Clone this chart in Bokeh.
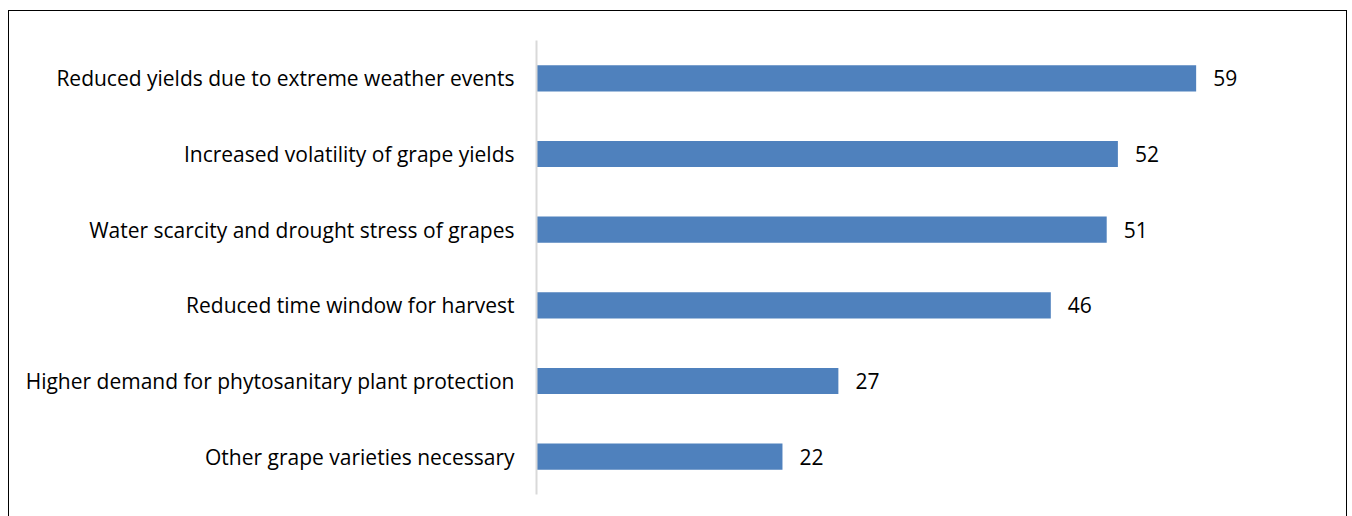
from bokeh.plotting import figure
from bokeh.models import ColumnDataSource, FactorRange, Range1d
from bokeh.core.properties import value
from bokeh.embed import file_html
from bokeh.resources import INLINE

categories = [
    "Reduced yields due to extreme weather events",
    "Increased volatility of grape yields",
    "Water scarcity and drought stress of grapes",
    "Reduced time window for harvest",
    "Higher demand for phytosanitary plant protection",
    "Other grape varieties necessary",
]
values = [59, 52, 51, 46, 27, 22]
value_labels = [str(v) for v in values]

FONT = "Open Sans"
BAR = "#4F81BD"

src = ColumnDataSource(dict(cat=categories, val=values, lab=value_labels))

p = figure(
    width=1339, height=510,
    y_range=FactorRange(factors=list(reversed(categories)), range_padding=0),
    x_range=Range1d(0, 72),
    output_backend="svg", toolbar_location=None,
    min_border_left=527, min_border_right=7, min_border_top=29, min_border_bottom=27,
)
p.margin = (10, 0, 0, 8)
p.styles = {"border-top": "1px solid black", "border-left": "1px solid black",
            "border-right": "1px solid black"}
p.outline_line_color = None
p.grid.visible = False
p.xaxis.visible = False

p.hbar(y="cat", right="val", left=0, height=0.345, source=src,
       fill_color=BAR, line_color=None)
p.text(x="val", y="cat", text="lab", source=src, x_offset=17,
       text_baseline="middle", text_align="left",
       text_font=value(FONT), text_font_size="21px", text_color="#000000")

ya = p.yaxis[0]
ya.axis_line_color = "#d9d9d9"
ya.axis_line_width = 2
ya.major_tick_line_color = None
ya.minor_tick_line_color = None
ya.major_label_text_font = FONT
ya.major_label_text_font_size = "21px"
ya.major_label_text_color = "#000000"
ya.major_label_standoff = 16

open("out.html", "w").write(file_html(p, INLINE))
